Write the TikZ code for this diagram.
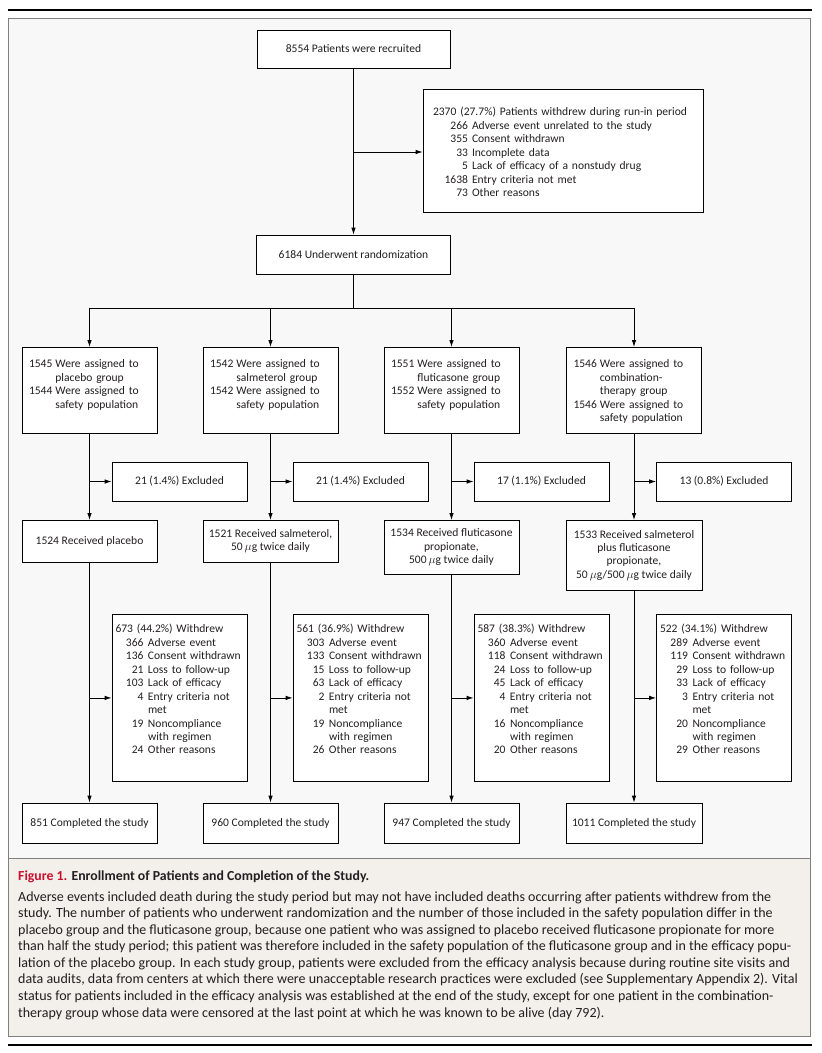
\documentclass[tikz,border=0pt]{standalone}
\usepackage{fontspec}
\setmainfont{Carlito}
\usetikzlibrary{arrows.meta}
\definecolor{diagbg}{HTML}{F8F8F8}
\definecolor{capbg}{HTML}{F3EFEA}
\definecolor{figred}{HTML}{C8102E}
\definecolor{framecol}{HTML}{808080}
\definecolor{txt}{HTML}{231F20}
\newcommand{\boxfont}{\fontsize{11.55}{13.45}\selectfont}
\newcommand{\capfont}{\fontsize{14}{16.57}\selectfont}
\newcommand{\nm}[2]{\makebox[#1][r]{#2}}
\newcommand{\wrow}[2]{\nm{28pt}{#1} & #2\\}
\newcommand{\rrow}[2]{\nm{35pt}{#1} & #2\\}
\begin{document}
\begin{tikzpicture}[x=1pt,y=-1pt,
  box/.style={draw=black, line width=0.8pt, fill=white, inner sep=0pt, text=txt, font=\boxfont},
  tbox/.style={box, anchor=north, align=left, inner ysep=0pt},
  conn/.style={line width=0.8pt, draw=black},
  arr/.style={conn, -{Latex[length=7pt,width=4.5pt]}}]
\useasboundingbox (0,0) rectangle (822,1053);
% frame and background
\fill[diagbg] (8,18) rectangle (810,858);
\fill[capbg] (8,858) rectangle (810,1036);
\draw[framecol, line width=0.8pt] (8,18) rectangle (810,1036);
\draw[framecol, line width=0.8pt] (8,858) -- (810,858);
\draw[black, line width=1.2pt] (8,10) -- (812,10);
\draw[black, line width=1.6pt] (8,1045) -- (812,1045);

% top part
\node[box, minimum width=193pt, minimum height=38pt] (rec) at (353.5,49) {8554 Patients were recruited};
\node[tbox, minimum width=280pt, text width=260pt, inner xsep=10pt, text height=26.5pt, text depth=96.5pt] (wd) at (563,89) {%
\begin{tabular}[t]{@{}l@{\hspace{4pt}}l@{}}
\multicolumn{2}{@{}l@{}}{2370 (27.7\%) Patients withdrew during run-in period}\\
\rrow{266}{Adverse event unrelated to the study}
\rrow{355}{Consent withdrawn}
\rrow{33}{Incomplete data}
\rrow{5}{Lack of efficacy of a nonstudy drug}
\rrow{1638}{Entry criteria not met}
\nm{35pt}{73} & Other reasons
\end{tabular}};
\node[box, minimum width=194pt, minimum height=39pt] (rand) at (353.5,254.5) {6184 Underwent randomization};

% assigned
\node[tbox, minimum width=135pt, text width=121pt, inner xsep=7pt, text height=20.5pt, text depth=65.5pt] (a1) at (89.5,347) {%
\begin{tabular}[t]{@{}l@{\hspace{3pt}}l@{}}
1545 & Were assigned to\\
 & placebo group\\
1544 & Were assigned to\\
 & safety population
\end{tabular}};
\node[tbox, minimum width=135pt, text width=121pt, inner xsep=7pt, text height=20.5pt, text depth=65.5pt] (a2) at (270.5,347) {%
\begin{tabular}[t]{@{}l@{\hspace{3pt}}l@{}}
1542 & Were assigned to\\
 & salmeterol group\\
1542 & Were assigned to\\
 & safety population
\end{tabular}};
\node[tbox, minimum width=135pt, text width=121pt, inner xsep=7pt, text height=20.5pt, text depth=65.5pt] (a3) at (451.5,347) {%
\begin{tabular}[t]{@{}l@{\hspace{3pt}}l@{}}
1551 & Were assigned to\\
 & fluticasone group\\
1552 & Were assigned to\\
 & safety population
\end{tabular}};
\node[tbox, minimum width=135pt, text width=121pt, inner xsep=7pt, text height=20.5pt, text depth=65.5pt] (a4) at (634,347) {%
\begin{tabular}[t]{@{}l@{\hspace{3pt}}l@{}}
1546 & Were assigned to\\
 & combination-\\
 & therapy group\\
1546 & Were assigned to\\
 & safety population
\end{tabular}};

% excluded
\node[box, minimum width=135pt, minimum height=39pt] (e1) at (179.5,481.5) {21 (1.4\%) Excluded};
\node[box, minimum width=135pt, minimum height=39pt] (e2) at (360.5,481.5) {21 (1.4\%) Excluded};
\node[box, minimum width=135pt, minimum height=39pt] (e3) at (541.5,481.5) {17 (1.1\%) Excluded};
\node[box, minimum width=135pt, minimum height=39pt] (e4) at (724,481.5) {13 (0.8\%) Excluded};

% received
\node[box, anchor=north, align=center, minimum width=135pt, minimum height=42pt] (r1) at (89.5,520) {1524 Received placebo};
\node[box, anchor=north, align=center, minimum width=135pt, minimum height=42pt] (r2) at (270.5,520) {1521 Received salmeterol,\\50\,$\mu$g twice daily};
\node[box, anchor=north, align=center, minimum width=135pt, minimum height=54pt] (r3) at (451.5,520) {1534 Received fluticasone\\propionate,\\500\,$\mu$g twice daily};
\node[box, anchor=north, align=center, minimum width=136pt, minimum height=70pt] (r4) at (634,520) {1533 Received salmeterol\\plus fluticasone\\propionate,\\50\,$\mu$g/500\,$\mu$g twice daily};

% withdrew
\node[tbox, minimum width=135pt, text width=128pt, inner xsep=3.5pt, text height=18.5pt, text depth=148.5pt] (w1) at (179.5,614) {%
\begin{tabular}[t]{@{}l@{\hspace{4.5pt}}l@{}}
\multicolumn{2}{@{}l@{}}{673 (44.2\%) Withdrew}\\
\wrow{366}{Adverse event}
\wrow{136}{Consent withdrawn}
\wrow{21}{Loss to follow-up}
\wrow{103}{Lack of efficacy}
\wrow{4}{Entry criteria not}
 & met\\
\wrow{19}{Noncompliance}
 & with regimen\\
\nm{28pt}{24} & Other reasons
\end{tabular}};
\node[tbox, minimum width=135pt, text width=128pt, inner xsep=3.5pt, text height=18.5pt, text depth=148.5pt] (w2) at (360.5,614) {%
\begin{tabular}[t]{@{}l@{\hspace{4.5pt}}l@{}}
\multicolumn{2}{@{}l@{}}{561 (36.9\%) Withdrew}\\
\wrow{303}{Adverse event}
\wrow{133}{Consent withdrawn}
\wrow{15}{Loss to follow-up}
\wrow{63}{Lack of efficacy}
\wrow{2}{Entry criteria not}
 & met\\
\wrow{19}{Noncompliance}
 & with regimen\\
\nm{28pt}{26} & Other reasons
\end{tabular}};
\node[tbox, minimum width=135pt, text width=128pt, inner xsep=3.5pt, text height=18.5pt, text depth=148.5pt] (w3) at (541.5,614) {%
\begin{tabular}[t]{@{}l@{\hspace{4.5pt}}l@{}}
\multicolumn{2}{@{}l@{}}{587 (38.3\%) Withdrew}\\
\wrow{360}{Adverse event}
\wrow{118}{Consent withdrawn}
\wrow{24}{Loss to follow-up}
\wrow{45}{Lack of efficacy}
\wrow{4}{Entry criteria not}
 & met\\
\wrow{16}{Noncompliance}
 & with regimen\\
\nm{28pt}{20} & Other reasons
\end{tabular}};
\node[tbox, minimum width=135pt, text width=128pt, inner xsep=3.5pt, text height=18.5pt, text depth=148.5pt] (w4) at (724,614) {%
\begin{tabular}[t]{@{}l@{\hspace{4.5pt}}l@{}}
\multicolumn{2}{@{}l@{}}{522 (34.1\%) Withdrew}\\
\wrow{289}{Adverse event}
\wrow{119}{Consent withdrawn}
\wrow{29}{Loss to follow-up}
\wrow{33}{Lack of efficacy}
\wrow{3}{Entry criteria not}
 & met\\
\wrow{20}{Noncompliance}
 & with regimen\\
\nm{28pt}{29} & Other reasons
\end{tabular}};

% completed
\node[box, minimum width=135pt, minimum height=40pt] (f1) at (89.5,823) {851 Completed the study};
\node[box, minimum width=135pt, minimum height=40pt] (f2) at (270.5,823) {960 Completed the study};
\node[box, minimum width=135pt, minimum height=40pt] (f3) at (451.5,823) {947 Completed the study};
\node[box, minimum width=136pt, minimum height=40pt] (f4) at (634,823) {1011 Completed the study};

% connectors
\coordinate (j0) at (353.5,152);
\draw[arr] (rec.south) -- (rand.north);
\draw[arr] (j0) -- (j0 -| wd.west);
\coordinate (hb) at (353.5,308);
\coordinate (h1) at (89.5,308);
\coordinate (h2) at (270.5,308);
\coordinate (h3) at (451.5,308);
\coordinate (h4) at (634,308);
\draw[conn] (rand.south) -- (hb);
\draw[conn] (h1) -- (h4);
\foreach \i in {1,2,3,4} {
  \draw[arr] (h\i) -- (a\i.north);
  \draw[arr] (a\i.south) -- (r\i.north);
  \draw[arr] (a\i.south |- e\i.west) -- (e\i.west);
  \draw[arr] (r\i.south) -- (f\i.north);
  \draw[arr] (r\i.south |- w\i.west) -- (w\i.west);
}

% caption
\node[anchor=base west, inner sep=0pt, text=txt, font=\fontsize{13.8}{15}\selectfont\bfseries] (captitle) at (18,880) {{\color{figred}Figure 1.} Enrollment of Patients and Completion of the Study.};
\node[anchor=base west, inner sep=0pt, text=txt, font=\capfont] (capbody) at (18,901) {%
\begin{tabular}[t]{@{}l@{}}
Adverse events included death during the study period but may not have included deaths occurring after patients withdrew from the\\
study. The number of patients who underwent randomization and the number of those included in the safety population differ in the\\
placebo group and the fluticasone group, because one patient who was assigned to placebo received fluticasone propionate for more\\
than half the study period; this patient was therefore included in the safety population of the fluticasone group and in the efficacy popu-\\
lation of the placebo group. In each study group, patients were excluded from the efficacy analysis because during routine site visits and\\
data audits, data from centers at which there were unacceptable research practices were excluded (see Supplementary Appendix 2). Vital\\
status for patients included in the efficacy analysis was established at the end of the study, except for one patient in the combination-\\
therapy group whose data were censored at the last point at which he was known to be alive (day 792).
\end{tabular}};
\end{tikzpicture}
\end{document}
